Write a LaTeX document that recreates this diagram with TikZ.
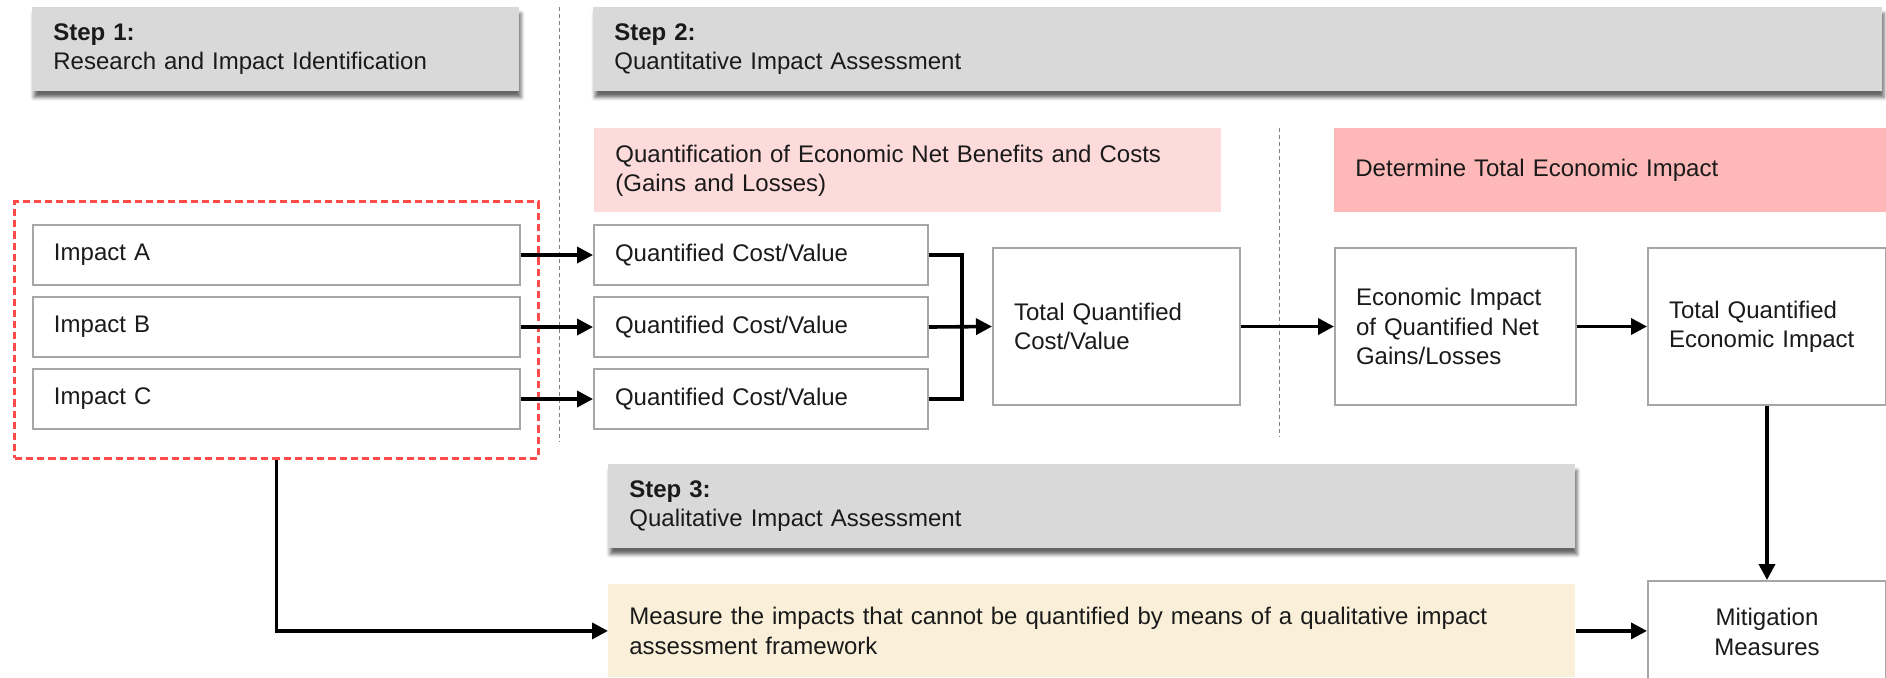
\documentclass[tikz,border=0pt]{standalone}
\usepackage{fontspec}
\setmainfont{Liberation Sans}
\usetikzlibrary{arrows.meta,shadows.blur}
\definecolor{stepgray}{HTML}{D9D9D9}
\definecolor{pinklight}{HTML}{FDDBDB}
\definecolor{pinkdark}{HTML}{FFB8B8}
\definecolor{qualyellow}{HTML}{FAF0D9}
\definecolor{boxgray}{HTML}{A6A6A6}
\definecolor{sepgray}{HTML}{808080}
\definecolor{groupred}{HTML}{FF4A4A}
\definecolor{txtblack}{HTML}{1A1A1A}
\begin{document}
\begin{tikzpicture}[x=0.5pt,y=-0.5pt,
  panel/.style={anchor=north west,inner xsep=10.5pt,inner ysep=0pt,align=left,
    font=\fontsize{12}{14.6}\selectfont,text=txtblack},
  stepbox/.style={panel,fill=stepgray,minimum height=42pt,
    blur shadow={shadow xshift=0.8pt,shadow yshift=-3pt,shadow blur radius=1.8pt,shadow opacity=60}},
  tagbox/.style={panel,minimum height=42pt},
  itembox/.style={panel,draw=boxgray,line width=1pt,fill=white},
  flow/.style={line width=1.8pt,-{Triangle[length=8pt,width=8pt]}},
  sepline/.style={draw=sepgray,line width=0.5pt,dash pattern=on 2pt off 1.5pt}]
\useasboundingbox (0,0) rectangle (1886,677);

% separators
\draw[sepline] (559,7)--(559,442);
\draw[sepline] (1279,128)--(1279,437);

% step headers
\node[stepbox,text width=222.5pt] (step1) at (32,7) {\textbf{Step 1:}\\Research and Impact Identification};
\node[stepbox,text width=623.5pt] (step2) at (593,7) {\textbf{Step 2:}\\Quantitative Impact Assessment};
\node[stepbox,text width=462.5pt] (step3) at (608,464) {\textbf{Step 3:}\\Qualitative Impact Assessment};

% sub headers
\node[tagbox,fill=pinklight,text width=292.5pt] (quant) at (594,128) {Quantification of Economic Net Benefits and Costs\\(Gains and Losses)};
\node[tagbox,fill=pinkdark,text width=259pt] (determ) at (1334,128) {Determine Total Economic Impact};

% impacts
\node[draw=groupred,line width=1.5pt,dash pattern=on 3.6pt off 2pt,anchor=north west,
  inner sep=0pt,minimum width=261.6pt,minimum height=128.3pt] (grp) at (13.3,200) {};
\foreach \l/\y in {A/224,B/296,C/368}{
  \node[itembox,text width=222.5pt,minimum height=30pt] (imp\l) at (32,\y) {Impact \l};
  \node[itembox,text width=146pt,minimum height=30pt] (qcv\l) at (593,\y) {Quantified Cost/Value};
  \draw[flow] (imp\l) -- (qcv\l);
}

% totals
\node[itembox,text width=102.5pt,minimum height=78.5pt] (totq) at (992,247) {Total Quantified\\Cost/Value};
\node[itembox,text width=99.5pt,minimum height=78.5pt] (econ) at (1334,247) {Economic Impact\\of Quantified Net\\Gains/Losses};
\node[itembox,text width=98pt,minimum height=78.5pt] (tqe) at (1647,247) {Total Quantified\\Economic Impact};

% qualitative
\node[panel,fill=qualyellow,text width=462.5pt,minimum height=46.5pt] (qual) at (608,584) {Measure the impacts that cannot be quantified by means of a qualitative impact\\assessment framework};
\node[itembox,align=center,text width=98pt,minimum height=51pt] (mitig) at (1647,580) {Mitigation\\Measures};

% connectors
\draw[line width=1.8pt] (qcvA.east) -- ++(33,0) |- (qcvC.east);
\draw[flow] (qcvB.east) -- (totq.west);
\draw[flow] (totq) -- (econ);
\draw[flow] (econ) -- (tqe);
\draw[flow] (tqe) -- (mitig);
\draw[flow] (grp.south) |- (qual.west);
\draw[flow] (qual.east) -- (qual.east -| mitig.west);
\end{tikzpicture}
\end{document}
